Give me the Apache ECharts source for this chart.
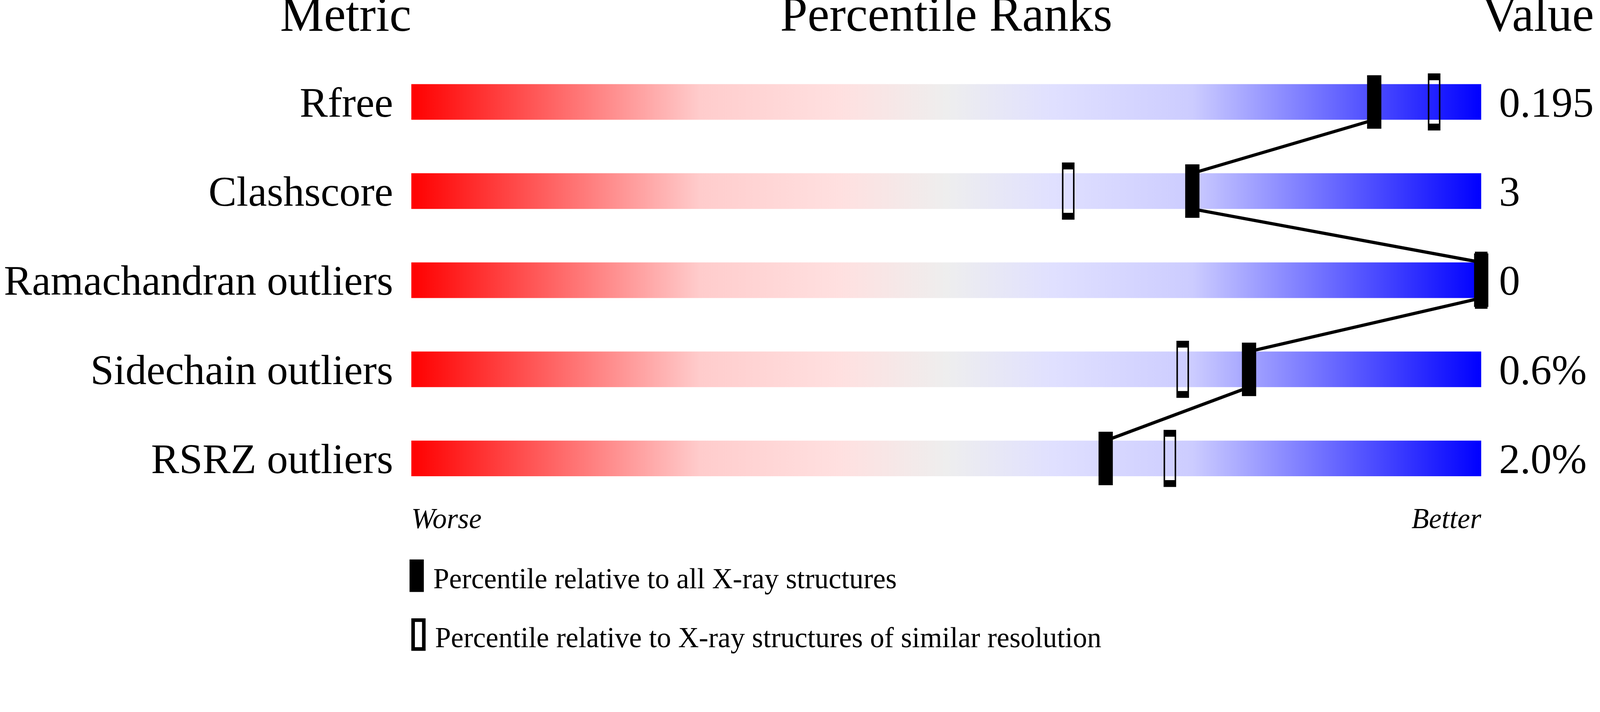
<!DOCTYPE html>
<html>
<head>
<meta charset="utf-8">
<title>Percentile Ranks</title>
<script src="https://cdn.jsdelivr.net/npm/echarts@6/dist/echarts.min.js"></script>
<style>
html, body { margin: 0; padding: 0; background: #fff; overflow: hidden; }
#chart { width: 100vw; height: 100vh; }
</style>
</head>
<body>
<div id="chart"></div>
<script>
// chart data
var metrics = ['Rfree', 'Clashscore', 'Ramachandran outliers', 'Sidechain outliers', 'RSRZ outliers'];
var metricValues = ['0.195', '3', '0', '0.6%', '2.0%'];
var trackMax = [100, 100, 100, 100, 100];
var pctAll = [90.0, 73.0, 100, 78.3, 64.9];
var pctSimilar = [95.6, 61.4, 100, 72.1, 70.9];
var xTickLabels = ['Worse', 'Better'];
var nameAll = 'Percentile relative to all X-ray structures';
var nameSimilar = 'Percentile relative to X-ray structures of similar resolution';

var serif = '"Liberation Serif", "Times New Roman", serif';

// connect the "all structures" markers, row to row
var links = [];
for (var i = 0; i < pctAll.length - 1; i++) {
	links.push([pctAll[i], i, pctAll[i + 1], i + 1]);
}

var chart = echarts.init(document.getElementById('chart'));

function buildOption() {
	// the design is laid out for a 4485 x 1824 page, scaled to the real one
	var s = Math.min(chart.getWidth() / 4485, chart.getHeight() / 1824);
	var gridLeft = 1153 * s, gridRight = chart.getWidth() - 4152 * s;
	var gridTop = 161 * s, gridHeight = 1250 * s;

	// labels sit with their baseline on the bar's lower edge:
	// box top on the row centre, small line height pushes the text down
	var rowLabel = {
		interval: 0,
		fontFamily: serif,
		fontSize: 118 * s,
		color: '#000',
		verticalAlign: 'top',
		lineHeight: 20 * s
	};

	return {
		animation: false,
		backgroundColor: '#fff',
		grid: {
			left: gridLeft,
			right: gridRight,
			top: gridTop,
			height: gridHeight,
			containLabel: false,
			outerBoundsMode: 'none'
		},
		xAxis: {
			type: 'value',
			min: 0,
			max: 100,
			interval: 100,
			axisLine: {show: false},
			axisTick: {show: false},
			splitLine: {show: false},
			axisLabel: {
				margin: 49 * s,
				verticalAlign: 'middle',
				alignMinLabel: 'left',
				alignMaxLabel: 'right',
				fontFamily: serif,
				fontStyle: 'italic',
				fontSize: 80 * s,
				color: '#000',
				formatter: function (v) {
					return v === 0 ? xTickLabels[0] : xTickLabels[1];
				}
			}
		},
		yAxis: [
			{
				type: 'category',
				data: metrics,
				inverse: true,
				axisLine: {show: false},
				axisTick: {show: false},
				splitLine: {show: false},
				axisLabel: Object.assign({margin: 51 * s}, rowLabel)
			},
			{
				type: 'category',
				data: metricValues,
				inverse: true,
				position: 'right',
				axisLine: {show: false},
				axisTick: {show: false},
				splitLine: {show: false},
				axisLabel: Object.assign({margin: 50 * s}, rowLabel)
			}
		],
		legend: [
			{
				left: 1148 * s,
				top: 1561 * s,
				padding: 0,
				orient: 'vertical',
				selectedMode: false,
				itemWidth: 40 * s,
				itemHeight: 91 * s,
				formatter: function (name) { return '\n' + name; },
				textStyle: {fontFamily: serif, fontSize: 80 * s, lineHeight: 28 * s, color: '#000', padding: [0, 0, 0, 21 * s]},
				data: [{name: nameAll, icon: 'rect', itemStyle: {color: '#000', borderWidth: 0}}]
			},
			{
				left: 1153 * s,
				top: 1726 * s,
				padding: 0,
				orient: 'vertical',
				selectedMode: false,
				itemWidth: 30 * s,
				itemHeight: 81 * s,
				formatter: function (name) { return '\n' + name; },
				textStyle: {fontFamily: serif, fontSize: 80 * s, lineHeight: 28 * s, color: '#000', padding: [0, 0, 0, 26 * s]},
				data: [{name: nameSimilar, icon: 'rect', itemStyle: {color: '#fff', borderColor: '#000', borderWidth: 10 * s}}]
			}
		],
		graphic: [
			{
				type: 'text', x: gridLeft, y: 50 * s, silent: true,
				style: {text: 'Metric', fontFamily: serif, fontSize: 138 * s, fill: '#000', align: 'right', verticalAlign: 'middle'}
			},
			{
				type: 'text', x: (1153 + 4152) / 2 * s, y: 50 * s, silent: true,
				style: {text: 'Percentile Ranks', fontFamily: serif, fontSize: 138 * s, fill: '#000', align: 'center', verticalAlign: 'middle'}
			},
			{
				type: 'text', x: 4154 * s, y: 50 * s, silent: true,
				style: {text: 'Value', fontFamily: serif, fontSize: 138 * s, fill: '#000', align: 'left', verticalAlign: 'middle'}
			}
		],
		series: [
			{
				name: 'track',
				type: 'bar',
				data: trackMax,
				barWidth: 100 * s,
				silent: true,
				z: 1,
				itemStyle: {
					color: {
						type: 'linear', x: 0, y: 0, x2: 1, y2: 0,
						colorStops: [
							{offset: 0, color: '#ff0000'},
							{offset: 0.27, color: '#ffcccc'},
							{offset: 0.4, color: '#ffe0e0'},
							{offset: 0.5, color: '#eeeeee'},
							{offset: 0.6, color: '#e0e0ff'},
							{offset: 0.73, color: '#ccccff'},
							{offset: 1, color: '#0000ff'}
						]
					}
				}
			},
			{
				name: 'links',
				type: 'custom',
				data: links,
				encode: {x: [0, 2], y: [1, 3]},
				silent: true,
				z: 2,
				renderItem: function (params, api) {
					var half = api.size([0, 1])[1] * 0.2;
					var a = api.coord([api.value(0), api.value(1)]);
					var b = api.coord([api.value(2), api.value(3)]);
					return {
						type: 'line',
						shape: {x1: a[0], y1: a[1] + half, x2: b[0], y2: b[1] - half},
						style: {stroke: '#000', lineWidth: 9 * s}
					};
				}
			},
			{
				name: nameSimilar,
				type: 'scatter',
				data: pctSimilar.map(function (p, i) { return [p, i]; }),
				symbol: 'rect',
				symbolSize: [31 * s, 141 * s],
				silent: true,
				z: 3,
				itemStyle: {color: 'rgba(0,0,0,0)', borderColor: '#000', borderWidth: 9 * s, opacity: 1}
			},
			{
				name: nameAll,
				type: 'scatter',
				data: pctAll.map(function (p, i) { return [p, i]; }),
				symbol: 'rect',
				symbolSize: [40 * s, 150 * s],
				silent: true,
				z: 4,
				itemStyle: {color: '#000', opacity: 1}
			}
		]
	};
}

chart.setOption(buildOption());
window.addEventListener('resize', function () {
	chart.resize();
	chart.setOption(buildOption());
});
</script>
</body>
</html>
